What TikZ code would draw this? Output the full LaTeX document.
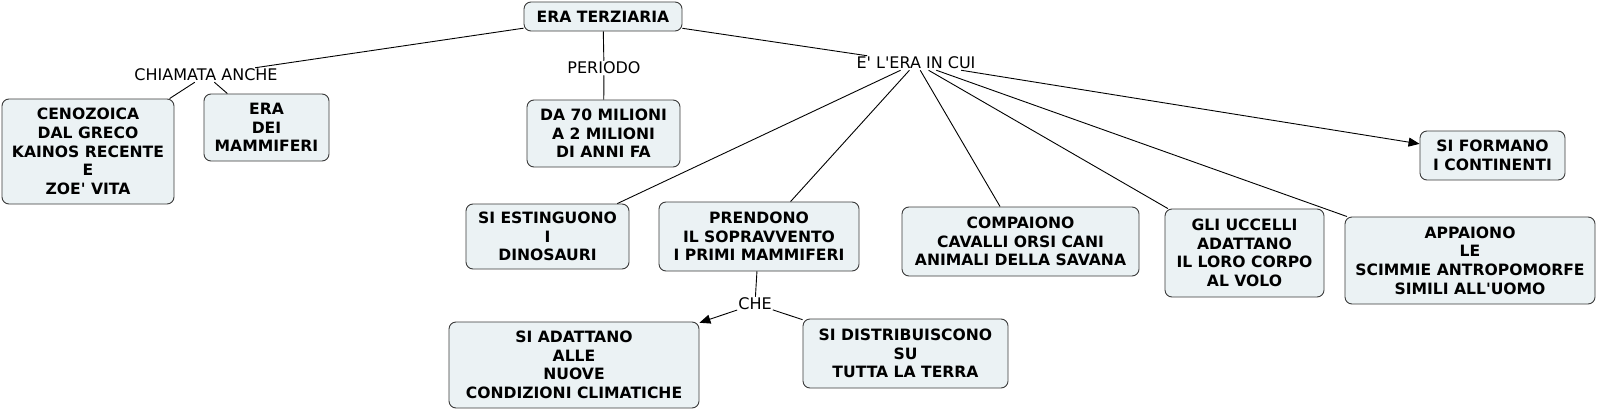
\documentclass[tikz,border=0pt]{standalone}
\usepackage{fontspec}
\setmainfont{DejaVu Sans}[Ligatures=TeXOff]
\usetikzlibrary{arrows.meta,positioning}
\definecolor{boxfill}{HTML}{EBF2F4}
\definecolor{boxline}{HTML}{3A3A3A}

\begin{document}
\begin{tikzpicture}[
  x=1pt, y=-1pt,
  >={Triangle[length=11pt,width=9pt]},
  box/.style={draw=boxline, fill=boxfill, rounded corners=7pt, align=center, inner sep=2pt, line width=0.9pt, font=\fontsize{15.6}{18.6}\selectfont\bfseries},
  lbl/.style={inner sep=1pt, font=\fontsize{16}{18}\selectfont},
  con/.style={line width=0.9pt},
  arr/.style={->, line width=0.9pt}
]
\useasboundingbox (0,0) rectangle (1600,412);
\node[box, minimum width=158pt, minimum height=29pt] (root) at (603,16.5) {ERA TERZIARIA};
\node[lbl] (chiamata) at (206,75) {CHIAMATA ANCHE};
\node[lbl] (periodo) at (604,68) {PERIODO};
\node[lbl] (eracui) at (916,63) {E' L'ERA IN CUI};
\node[box, minimum width=172pt, minimum height=105pt] (ceno) at (88,151.5) {CENOZOICA\\DAL GRECO\\KAINOS RECENTE\\E\\ZOE' VITA};
\node[box, minimum width=125pt, minimum height=67pt] (eradei) at (266.5,127.5) {ERA\\DEI\\MAMMIFERI};
\node[box, minimum width=153pt, minimum height=67pt] (milioni) at (603.5,133.5) {DA 70 MILIONI\\A 2 MILIONI\\DI ANNI FA};
\node[box, minimum width=145pt, minimum height=49pt] (continenti) at (1492.5,155.5) {SI FORMANO\\I CONTINENTI};
\node[box, minimum width=163pt, minimum height=65pt] (dinosauri) at (547.5,236.5) {SI ESTINGUONO\\I\\DINOSAURI};
\node[box, minimum width=200pt, minimum height=69pt] (prendono) at (759,236.5) {PRENDONO\\IL SOPRAVVENTO\\I PRIMI MAMMIFERI};
\node[box, minimum width=237pt, minimum height=69pt] (compaiono) at (1020.5,241.5) {COMPAIONO\\CAVALLI ORSI CANI\\ANIMALI DELLA SAVANA};
\node[box, minimum width=159pt, minimum height=88pt] (uccelli) at (1244.5,253) {GLI UCCELLI\\ADATTANO\\IL LORO CORPO\\AL VOLO};
\node[box, minimum width=250pt, minimum height=87pt] (scimmie) at (1470,260.5) {APPAIONO\\LE\\SCIMMIE ANTROPOMORFE\\SIMILI ALL'UOMO};
\node[lbl] (che) at (755,304) {CHE};
\node[box, minimum width=250pt, minimum height=86pt] (adattano) at (574,365) {SI ADATTANO\\ALLE\\NUOVE\\CONDIZIONI CLIMATICHE};
\node[box, minimum width=205pt, minimum height=69pt] (terra) at (905.5,353.5) {SI DISTRIBUISCONO\\SU\\TUTTA LA TERRA};
\draw[con] (root) -- (chiamata);
\draw[con] (chiamata) -- (ceno);
\draw[con] (chiamata) -- (eradei);
\draw[con] (root) -- (periodo);
\draw[con] (periodo) -- (milioni);
\draw[con] (root) -- (eracui);
\draw[con] (eracui) -- (dinosauri);
\draw[con] (eracui) -- (prendono);
\draw[con] (eracui) -- (compaiono);
\draw[con] (eracui) -- (uccelli);
\draw[con] (eracui) -- (scimmie);
\draw[arr] (eracui) -- (continenti);
\draw[con] (prendono) -- (che);
\draw[arr] (che) -- (adattano);
\draw[con] (che) -- (terra);
\end{tikzpicture}
\end{document}
